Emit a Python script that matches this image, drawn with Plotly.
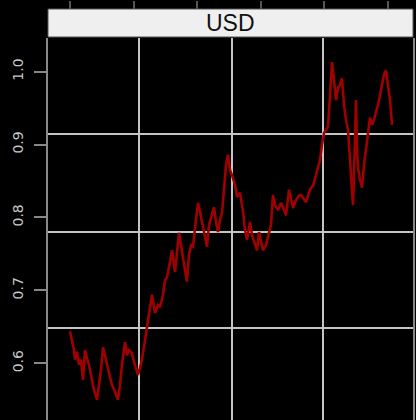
import plotly.graph_objects as go

# time index (one unit ~ one trading step), rate values
t = [0, 2, 4, 5, 7, 9, 11, 13, 15, 17, 19, 22, 24, 27, 29, 31, 33, 36, 39, 42,
     45, 48, 50, 52, 55, 57, 59, 62, 64, 66, 68, 70, 72, 75, 78, 80, 82, 85, 88, 90,
     93, 95, 97, 100, 102, 105, 107, 109, 111, 113, 115, 117, 119, 121, 123, 126, 128, 130, 132, 135,
     137, 139, 142, 144, 146, 148, 150, 152, 154, 156, 158, 160, 162, 165, 167, 170, 173, 175, 177, 180,
     182, 185, 187, 189, 191, 193, 196, 199, 201, 203, 205, 208, 211, 213, 216, 219, 221, 223, 226, 229,
     231, 234, 236, 239, 241, 243, 246, 248, 250, 252, 254, 256, 258, 260, 262, 264, 266, 268, 270, 272,
     274, 276, 278, 280, 282, 283, 285, 286, 287, 288, 290, 292, 294, 296, 298, 300, 302, 304, 306, 308,
     310, 312, 314, 316, 318, 320, 322]
usd = [0.644, 0.632, 0.618, 0.605, 0.616, 0.598, 0.605, 0.577, 0.618, 0.607,
       0.598, 0.577, 0.563, 0.550, 0.570, 0.591, 0.622, 0.605, 0.587, 0.570,
       0.561, 0.550, 0.570, 0.598, 0.629, 0.611, 0.618, 0.614, 0.602, 0.594,
       0.584, 0.594, 0.605, 0.632, 0.659, 0.673, 0.694, 0.669, 0.680, 0.677,
       0.694, 0.714, 0.718, 0.739, 0.755, 0.725, 0.749, 0.779, 0.762, 0.742,
       0.728, 0.712, 0.749, 0.762, 0.760, 0.797, 0.820, 0.808, 0.794, 0.769,
       0.760, 0.790, 0.806, 0.814, 0.794, 0.780, 0.797, 0.806, 0.838, 0.872,
       0.886, 0.865, 0.858, 0.845, 0.828, 0.834, 0.808, 0.783, 0.769, 0.794,
       0.776, 0.762, 0.755, 0.780, 0.769, 0.755, 0.762, 0.780, 0.790, 0.831,
       0.817, 0.810, 0.820, 0.814, 0.803, 0.838, 0.824, 0.813, 0.824, 0.830,
       0.831, 0.824, 0.821, 0.834, 0.841, 0.843, 0.860, 0.868, 0.879, 0.900,
       0.916, 0.920, 0.924, 0.968, 1.013, 0.989, 0.961, 0.978, 0.982, 0.991,
       0.954, 0.934, 0.920, 0.879, 0.838, 0.817, 0.906, 0.961, 0.893, 0.868,
       0.852, 0.841, 0.872, 0.893, 0.916, 0.937, 0.927, 0.934, 0.945, 0.954,
       0.968, 0.982, 0.996, 1.002, 0.982, 0.961, 0.927]

y_ticks = [0.6, 0.7, 0.8, 0.9, 1.0]
y_labels = ["0.6", "0.7", "0.8", "0.9", "1.0"]
top_ticks = [0, 63.5, 127, 190.5, 254, 317.5]
x_grid = [69.3, 161.7, 253.3]
y_grid = [0.648, 0.7805, 0.914]

W, H = 416, 420
xr = [-22, 343]
yr = [0.5222, 1.0462]

fig = go.Figure()
fig.add_trace(go.Scatter(x=t, y=usd, mode="lines",
                         line=dict(color="#a00000", width=2.6), showlegend=False))

fig.update_layout(
    width=W, height=H,
    margin=dict(l=0, r=0, t=0, b=0),
    paper_bgcolor="black", plot_bgcolor="black",
    xaxis=dict(domain=[48 / W, 413 / W], range=xr, tickvals=x_grid,
               showticklabels=False, ticks="", showgrid=True,
               gridcolor="#c4c4c4", gridwidth=2, zeroline=False, showline=False),
    xaxis2=dict(overlaying="x", anchor="free", position=(H - 8.5) / H, side="top",
                range=xr, tickvals=top_ticks, ticks="outside", ticklen=8,
                tickcolor="#555", tickwidth=1.5, showticklabels=False,
                showgrid=False, zeroline=False, showline=False),
    yaxis=dict(domain=[0, (H - 38) / H], range=yr, tickvals=y_ticks, ticktext=y_labels,
               tickangle=-90, ticks="outside", ticklen=12, tickcolor="#888",
               tickwidth=1.5, showline=True, linecolor="#888", linewidth=1.5,
               showgrid=False, zeroline=False, ticklabelstandoff=6,
               tickfont=dict(family="DejaVu Sans", size=14, color="#c8c8c8")),
    yaxis2=dict(overlaying="y", side="right", range=yr, tickvals=y_grid,
                showticklabels=False, ticks="", showgrid=True, gridcolor="#c4c4c4",
                gridwidth=2, zeroline=False, showline=True, linecolor="#888",
                linewidth=1.5),
)
# dummy trace to activate the overlay axes
fig.add_trace(go.Scatter(x=[], y=[], xaxis="x2", yaxis="y2", showlegend=False))

# lattice-style strip
fig.add_shape(type="rect", xref="paper", yref="paper",
              x0=48 / W, x1=413 / W, y0=(H - 37) / H, y1=(H - 9) / H,
              fillcolor="#efefef", line=dict(color="#555", width=1))
fig.add_annotation(text="USD", xref="paper", yref="paper",
                   x=230.5 / W, y=(H - 23) / H, xanchor="center", yanchor="middle",
                   showarrow=False,
                   font=dict(family="Liberation Sans", size=23, color="#111"))

fig.write_html("out.html", config={"displayModeBar": False},
               post_script="document.body.style.margin='0';"
                           "document.body.style.overflow='hidden';")
